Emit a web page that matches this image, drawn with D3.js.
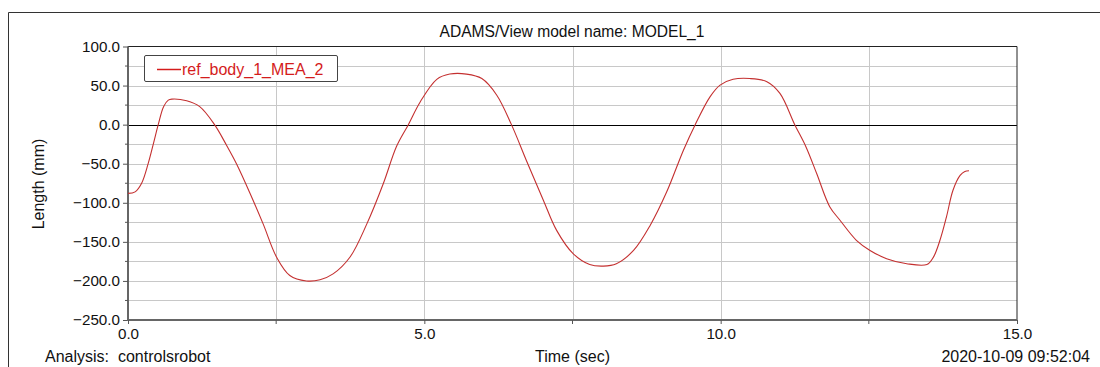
<!DOCTYPE html>
<html>
<head>
<meta charset="utf-8">
<script src="https://cdn.jsdelivr.net/npm/d3@7"></script>
<style>
  body { margin: 0; background: #fff; }
  text { font-family: "Liberation Sans", Arial, sans-serif; }
</style>
</head>
<body>
<div id="chart"></div>
<script>
// Values
const timeSec = [0, 0.12, 0.23, 0.34, 0.43, 0.51, 0.60, 0.68, 0.74, 0.99, 1.21, 1.46, 1.66, 1.83, 2.06, 2.28, 2.51, 2.73, 3.01, 3.24, 3.46, 3.75, 4.03, 4.31, 4.53, 4.73, 4.93,
  5.21, 5.43, 5.71, 5.97, 6.22, 6.47, 6.72, 7.01, 7.23, 7.51, 7.79, 8.02, 8.24, 8.53, 8.81, 9.09, 9.37, 9.57, 9.82,
  9.99, 10.21, 10.49, 10.78, 11.0, 11.25, 11.44, 11.62, 11.84, 12.01, 12.29, 12.52, 12.80, 13.14, 13.48, 13.59, 13.70, 13.81, 13.92, 14.04, 14.12, 14.19];
const lengthMm = [-88, -86, -75, -50, -24, 0, 23, 31.4, 32.7, 30.5, 23, 0, -26, -50, -88, -127, -170, -193, -200, -198.5, -191, -169, -127, -75, -28, 0, 29,
  58, 64.7, 64.7, 59, 38, 0, -45.5, -97, -135, -165, -179, -181, -178, -161, -129, -86, -33, 0, 35.6,
  50.6, 58, 59, 55, 40, 0, -28.5, -62.6, -105, -122, -148, -161, -171.5, -178, -179, -169.5, -148, -118, -84, -65, -60, -59];
const seriesName = 'ref_body_1_MEA_2';
const xTicks = [0, 5, 10, 15];
const xGrid = [2.5, 5, 7.5, 10, 12.5];
const yTicks = [100, 50, 0, -50, -100, -150, -200, -250];
const yGrid = [75, 50, 25, -25, -50, -75, -100, -125, -150, -175, -200, -225];

const W = 1100, H = 367;
const plot = { left: 128, right: 1017, top: 46.5, bottom: 320 };

const svg = d3.select('#chart').append('svg')
  .attr('width', W).attr('height', H);

// outer frame
svg.append('path')
  .attr('d', `M8.5,${H + 2}V12.5H${W + 2}`)
  .attr('fill', 'none').attr('stroke', '#333').attr('stroke-width', 1);

const x = d3.scaleLinear().domain([0, 15]).range([plot.left, plot.right]);
const y = d3.scaleLinear().domain([-250, 100]).range([plot.bottom, plot.top]);

// grid
svg.append('g').selectAll('line').data(yGrid).join('line')
  .attr('x1', plot.left).attr('x2', plot.right)
  .attr('y1', d => Math.round(y(d)) + 0.5).attr('y2', d => Math.round(y(d)) + 0.5)
  .attr('stroke', '#c8c8c8');
svg.append('g').selectAll('line').data(xGrid).join('line')
  .attr('y1', plot.top).attr('y2', plot.bottom)
  .attr('x1', d => Math.round(x(d)) + 0.5).attr('x2', d => Math.round(x(d)) + 0.5)
  .attr('stroke', '#c8c8c8');

// zero line
svg.append('line')
  .attr('x1', plot.left).attr('x2', plot.right)
  .attr('y1', Math.round(y(0)) + 0.5).attr('y2', Math.round(y(0)) + 0.5)
  .attr('stroke', '#000');

// plot border top/right
svg.append('path')
  .attr('d', `M${plot.left},${plot.top}H${plot.right}V${plot.bottom}`)
  .attr('fill', 'none').attr('stroke', '#222').attr('stroke-width', 1);

// left axis
const yAxis = svg.append('g').attr('transform', `translate(${plot.left},0)`)
  .call(d3.axisLeft(y).tickValues(yTicks).tickFormat(d3.format('.1f')).tickSize(5).tickPadding(3));
yAxis.append('g').selectAll('line').data(yGrid.filter(d => d % 50 !== 0)).join('line')
  .attr('x1', -3).attr('x2', 0)
  .attr('y1', d => y(d)).attr('y2', d => y(d))
  .attr('stroke', '#555');

// bottom axis
const xAxis = svg.append('g').attr('transform', `translate(0,${plot.bottom})`)
  .call(d3.axisBottom(x).tickValues(xTicks).tickFormat(d3.format('.1f')).tickSize(4).tickPadding(4));
xAxis.append('g').selectAll('line').data(xGrid.filter(d => d % 5 !== 0)).join('line')
  .attr('y1', 0).attr('y2', 4)
  .attr('x1', d => x(d)).attr('x2', d => x(d))
  .attr('stroke', '#555');

[yAxis, xAxis].forEach(a => {
  a.select('.domain').attr('stroke', '#666').attr('stroke-width', 2);
  a.selectAll('.tick line').attr('stroke', '#555');
  a.selectAll('.tick text').attr('font-size', 15.2).attr('fill', '#111')
    .style('font-family', '"Liberation Sans", Arial, sans-serif');
});
yAxis.select('.domain').attr('d', `M0,${plot.top}V${plot.bottom + 1}`);
xAxis.select('.domain').attr('d', `M${plot.left - 1},0H${plot.right}`);

// the curve
const pts = timeSec.map((t, i) => [t, lengthMm[i]]);
svg.append('path')
  .datum(pts)
  .attr('fill', 'none')
  .attr('stroke', '#c43030')
  .attr('stroke-width', 1.1)
  .attr('d', d3.line().x(d => x(d[0])).y(d => y(d[1])).curve(d3.curveCatmullRom.alpha(0.5)));

// legend
const lg = svg.append('g');
lg.append('rect')
  .attr('x', 144.5).attr('y', 55.5).attr('width', 193).attr('height', 26).attr('rx', 1.5)
  .attr('fill', '#fff').attr('stroke', '#444');
lg.append('line')
  .attr('x1', 157).attr('x2', 181).attr('y1', 69.5).attr('y2', 69.5)
  .attr('stroke', '#d41c1c').attr('stroke-width', 1.5);
lg.append('text')
  .attr('x', 182).attr('y', 75).attr('font-size', 16).attr('fill', '#d41c1c')
  .text(seriesName);

// texts
svg.append('text').attr('x', 572).attr('y', 37).attr('text-anchor', 'middle')
  .attr('font-size', 15.6).attr('fill', '#111').text('ADAMS/View model name: MODEL_1');
svg.append('text').attr('transform', 'translate(44,184) rotate(-90)').attr('text-anchor', 'middle')
  .attr('font-size', 16).attr('fill', '#111').text('Length (mm)');
svg.append('text').attr('x', 45).attr('y', 362)
  .attr('font-size', 16).attr('fill', '#111').style('white-space', 'pre')
  .text('Analysis:  controlsrobot');
svg.append('text').attr('x', 572.5).attr('y', 362).attr('text-anchor', 'middle')
  .attr('font-size', 16).attr('fill', '#111').text('Time (sec)');
svg.append('text').attr('x', 1090).attr('y', 362).attr('text-anchor', 'end')
  .attr('font-size', 16).attr('fill', '#111').text('2020-10-09 09:52:04');
</script>
</body>
</html>
